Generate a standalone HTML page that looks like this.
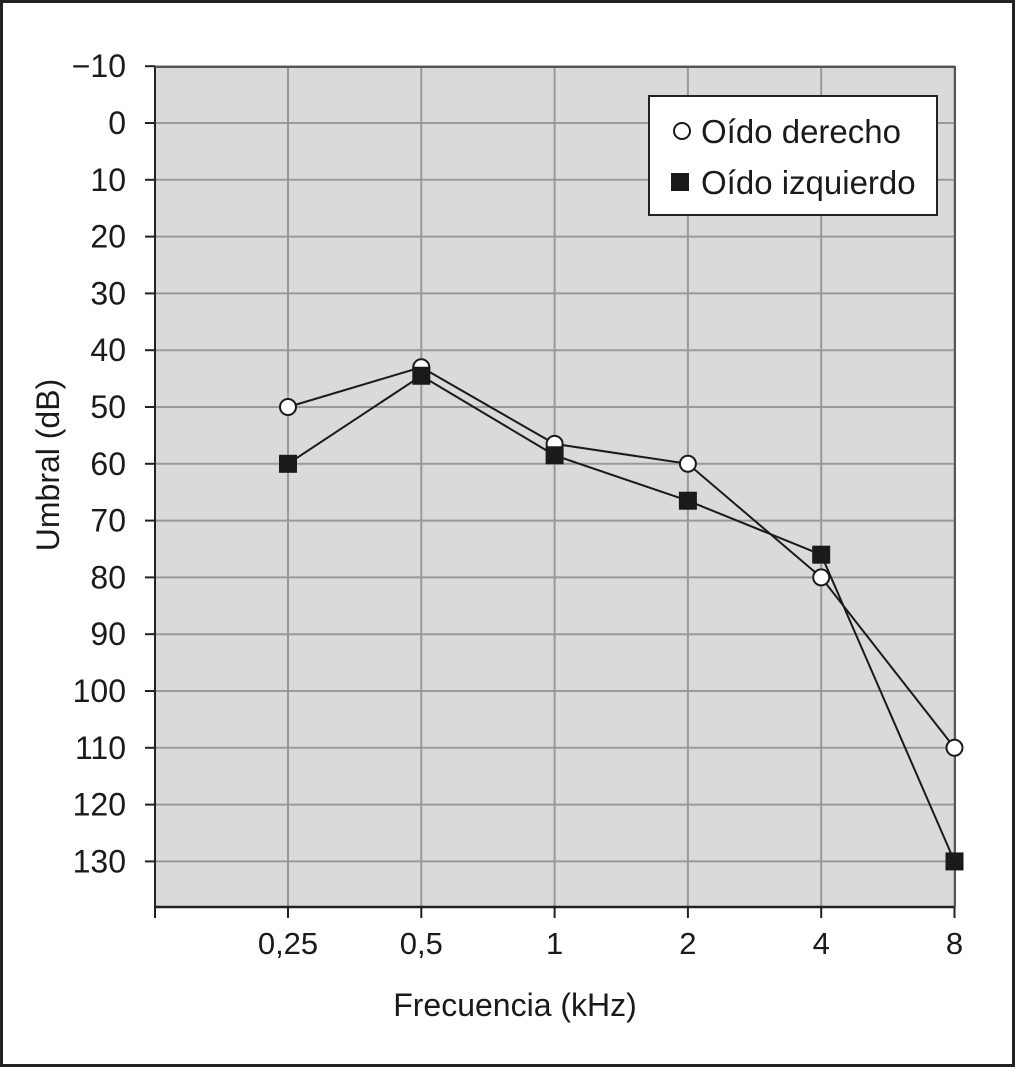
<!DOCTYPE html>
<html><head><meta charset="utf-8"><style>
body{margin:0;background:#fff}
svg text{font-family:"Liberation Sans",Arial,sans-serif;fill:#1a1a1a}
</style></head><body>
<svg width="1016" height="1068" viewBox="0 0 1016 1068" xmlns="http://www.w3.org/2000/svg">
<rect x="1.5" y="1.5" width="1012" height="1064" fill="#fff" stroke="#222" stroke-width="3"/>
<g id="plot"></g>
</svg>
<script>
const categories=["0,25","0,5","1","2","4","8"];
const rightEar=[50,43,56.5,60,80,110];
const leftEar=[60,44.5,58.5,66.5,76,130];
const yTicks=[-10,0,10,20,30,40,50,60,70,80,90,100,110,120,130];
const NS="http://www.w3.org/2000/svg";
const g=document.getElementById('plot');
const L=155,R=955,T=67,B=907;
function xs(i){return 288+i*133.3;}
function ys(v){return 123+v*5.68;}
function mk(tag,a,parent){const e=document.createElementNS(NS,tag);for(const k in a)e.setAttribute(k,a[k]);(parent||g).appendChild(e);return e;}
let e=mk('rect',{x:L,y:T,width:R-L,height:B-T,fill:'#dadada'});


yTicks.forEach(v=>{
 const y=ys(v);
 let l=mk('line',{x1:L,x2:R,y1:y,y2:y,stroke:'#999','stroke-width':2});
 
 
 let t=mk('line',{x1:145,x2:L,y1:y,y2:y,stroke:'#222','stroke-width':2});
 
 
 let tx=mk('text',{x:126,y:y+11,'text-anchor':'end','font-size':32});
 tx.textContent=v<0?'\u2212'+(-v):String(v);
 
 
});
categories.forEach((c,i)=>{
 const x=xs(i);
 let l=mk('line',{x1:x,x2:x,y1:T,y2:B,stroke:'#999','stroke-width':2});
 
 
 let t=mk('line',{x1:x,x2:x,y1:B,y2:918,stroke:'#222','stroke-width':2});
 
 
 let tx=mk('text',{x:x,y:954,'text-anchor':'middle','font-size':31});
 tx.textContent=c;
 
 
});
e=mk('line',{x1:L,x2:L,y1:T-1,y2:918,stroke:'#222','stroke-width':2});


e=mk('line',{x1:L,x2:R,y1:B,y2:B,stroke:'#222','stroke-width':2.5});


e=mk('polyline',{points:`${L},${T} ${R},${T} ${R},${B}`,fill:'none',stroke:'#555','stroke-width':2});


e=mk('polyline',{points:leftEar.map((v,i)=>xs(i)+','+ys(v)).join(' '),fill:'none',stroke:'#1a1a1a','stroke-width':2});


e=mk('polyline',{points:rightEar.map((v,i)=>xs(i)+','+ys(v)).join(' '),fill:'none',stroke:'#1a1a1a','stroke-width':2});


rightEar.forEach((v,i)=>{
 let c=mk('circle',{cx:xs(i),cy:ys(v),r:8,fill:'#fff',stroke:'#1a1a1a','stroke-width':2});
 
 
});
leftEar.forEach((v,i)=>{
 let s=mk('rect',{x:xs(i)-9,y:ys(v)-9,width:18,height:18,fill:'#1a1a1a'});
 
 
});
const lg=mk('g',{});


mk('rect',{x:649,y:96,width:288,height:119,fill:'#fff',stroke:'#222','stroke-width':2},lg);
let lc=mk('circle',{cx:682,cy:131,r:8,fill:'#fff',stroke:'#1a1a1a','stroke-width':2},lg);


let t1=mk('text',{x:701,y:143,'font-size':33},lg);t1.textContent='Oído derecho';


let ls=mk('rect',{x:671,y:173,width:18,height:18,fill:'#1a1a1a'},lg);


let t2=mk('text',{x:701,y:194,'font-size':33},lg);t2.textContent='Oído izquierdo';


e=mk('text',{x:515,y:1016,'text-anchor':'middle','font-size':32});
e.textContent='Frecuencia (kHz)';


e=mk('text',{x:0,y:0,'text-anchor':'middle','font-size':32,transform:'translate(59,465) rotate(-90)'});
e.textContent='Umbral (dB)';


</script>
</body></html>
